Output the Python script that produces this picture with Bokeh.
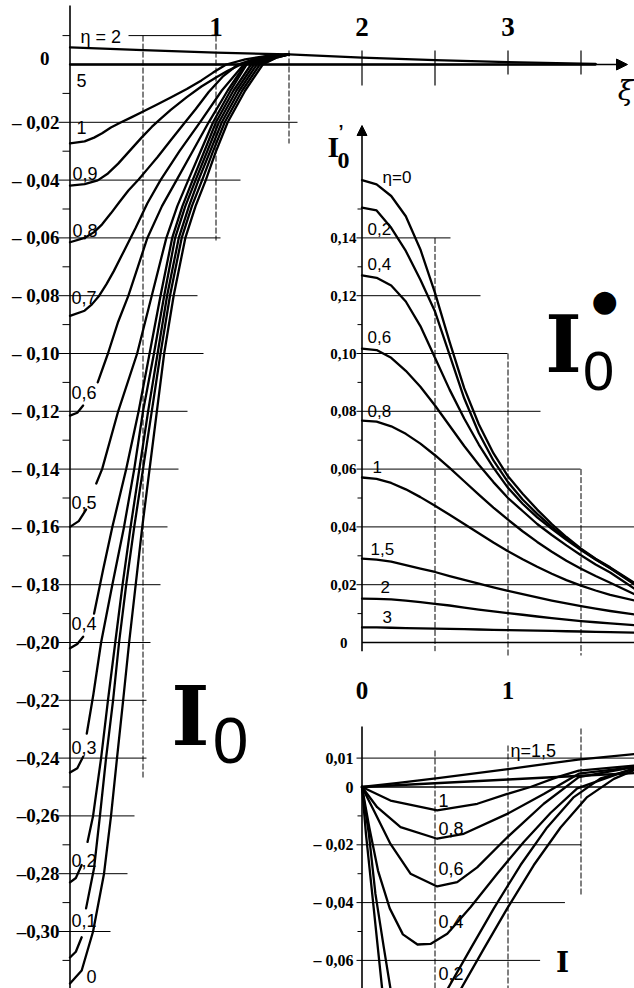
import numpy as np
from bokeh.plotting import figure
from bokeh.models import Range1d, Arrow, NormalHead
from bokeh.core.properties import value
from bokeh.embed import file_html
from bokeh.resources import INLINE

nan = float("nan")

# ---------------- main panel: I0(xi, eta) ----------------
xi_I0_e0 = [0, 0.08, 0.158, 0.233, 0.281, 0.322, 0.364, 0.405, 0.45, 0.495, 0.545, 0.595, 0.645, 0.71, 0.79, 0.86, 0.93, 1.0, 1.08, 1.2, 1.32, 1.42, 1.5]
v_I0_e0 = [-0.318, -0.3135, -0.300, -0.280, -0.260, -0.240, -0.220, -0.200, -0.180, -0.160, -0.140, -0.120, -0.100, -0.080, -0.060, -0.049, -0.040, -0.030, -0.020, -0.009, 0.0, 0.0025, 0.0035]
xi_I0_e01 = [0, 0.04, 0.08, nan, 0.11, 0.165, 0.205, 0.247, 0.295, 0.336, 0.385, 0.44, 0.50, 0.56, 0.62, 0.685, 0.765, 0.835, 0.905, 0.98, 1.06, 1.18, 1.30, 1.42, 1.5]
v_I0_e01 = [-0.309, -0.307, -0.302, nan, -0.292, -0.278, -0.260, -0.240, -0.220, -0.200, -0.180, -0.160, -0.140, -0.120, -0.100, -0.080, -0.060, -0.049, -0.040, -0.030, -0.020, -0.009, 0.0, 0.0025, 0.0035]
xi_I0_e02 = [0, 0.04, 0.08, nan, 0.12, 0.158, 0.213, 0.26, 0.31, 0.36, 0.415, 0.475, 0.535, 0.60, 0.665, 0.745, 0.815, 0.88, 0.96, 1.04, 1.16, 1.28, 1.4, 1.5]
v_I0_e02 = [-0.283, -0.2815, -0.277, nan, -0.269, -0.260, -0.240, -0.220, -0.200, -0.180, -0.160, -0.140, -0.120, -0.100, -0.080, -0.060, -0.049, -0.040, -0.030, -0.020, -0.009, 0.0, 0.0025, 0.0035]
xi_I0_e03 = [0, 0.05, 0.09, nan, 0.115, 0.16, 0.213, 0.29, 0.37, 0.44, 0.50, 0.575, 0.645, 0.72, 0.79, 0.86, 0.94, 1.02, 1.14, 1.26, 1.38, 1.5]
v_I0_e03 = [-0.245, -0.2435, -0.2395, nan, -0.2315, -0.218, -0.200, -0.180, -0.160, -0.140, -0.120, -0.100, -0.080, -0.060, -0.049, -0.040, -0.030, -0.020, -0.009, 0.0, 0.0025, 0.0035]
xi_I0_e04 = [0, 0.05, 0.09, nan, 0.165, 0.226, 0.29, 0.385, 0.47, 0.545, 0.62, 0.70, 0.77, 0.84, 0.92, 1.0, 1.12, 1.24, 1.36, 1.5]
v_I0_e04 = [-0.202, -0.2005, -0.198, nan, -0.190, -0.175, -0.160, -0.140, -0.120, -0.100, -0.080, -0.060, -0.049, -0.040, -0.030, -0.020, -0.009, 0.0, 0.0025, 0.0035]
xi_I0_e05 = [0, 0.06, 0.11, nan, 0.18, 0.22, 0.33, 0.46, 0.56, 0.66, 0.735, 0.81, 0.895, 0.98, 1.1, 1.21, 1.35, 1.5]
v_I0_e05 = [-0.160, -0.158, -0.154, nan, -0.145, -0.140, -0.120, -0.100, -0.080, -0.060, -0.049, -0.040, -0.030, -0.020, -0.009, 0.0, 0.0025, 0.0035]
xi_I0_e06 = [0, 0.05, 0.09, nan, 0.19, 0.26, 0.33, 0.40, 0.465, 0.53, 0.63, 0.73, 0.84, 0.95, 1.08, 1.2, 1.35, 1.5]
v_I0_e06 = [-0.1215, -0.1205, -0.118, nan, -0.110, -0.100, -0.089, -0.080, -0.0700, -0.060, -0.049, -0.040, -0.030, -0.020, -0.009, 0.0, 0.0025, 0.0035]
xi_I0_e07 = [0, 0.1, 0.15, 0.2, 0.25, 0.3, 0.37, 0.45, 0.53, 0.62, 0.75, 0.89, 1.04, 1.19, 1.35, 1.5]
v_I0_e07 = [-0.087, -0.0852, -0.0830, -0.0800, -0.0760, -0.0715, -0.0645, -0.0565, -0.048, -0.040, -0.030, -0.020, -0.009, 0.0, 0.0025, 0.0035]
xi_I0_e08 = [0, 0.1, 0.165, 0.22, 0.28, 0.34, 0.40, 0.47, 0.53, 0.6, 0.69, 0.78, 0.86, 0.95, 1.05, 1.15, 1.3, 1.5]
v_I0_e08 = [-0.0615, -0.0600, -0.0580, -0.0553, -0.0515, -0.0475, -0.0436, -0.0398, -0.0362, -0.0320, -0.0262, -0.0205, -0.0155, -0.0095, -0.0040, 0.0, 0.0025, 0.0035]
xi_I0_e09 = [0, 0.1, 0.19, 0.26, 0.33, 0.41, 0.49, 0.56, 0.62, 0.69, 0.8, 0.9, 1.0, 1.08, 1.17, 1.3, 1.5]
v_I0_e09 = [-0.0419, -0.0414, -0.0401, -0.0377, -0.0343, -0.0298, -0.0253, -0.0216, -0.0188, -0.0157, -0.0113, -0.0076, -0.0045, -0.0022, 0.0, 0.0022, 0.0035]
xi_I0_e1 = [0, 0.1, 0.165, 0.22, 0.28, 0.35, 0.42, 0.487, 0.59, 0.69, 0.8, 0.9, 0.98, 1.07, 1.2, 1.35, 1.5]
v_I0_e1 = [-0.0273, -0.0266, -0.0253, -0.0238, -0.0218, -0.020, -0.0183, -0.0166, -0.0140, -0.0114, -0.0085, -0.0055, -0.0028, 0.0, 0.0018, 0.003, 0.0035]
xi_I0_e2 = [0, 0.5, 1.0, 1.5, 2.0, 2.5, 3.0, 3.5, 3.6]
v_I0_e2 = [0.0059, 0.0050, 0.0041, 0.0035, 0.0024, 0.0015, 0.0008, 0.0003, 0.0002]
xi_I0_e5 = [0, 3.6]
v_I0_e5 = [0.0, 0.0]

main_labels = ["η = 2", "5", "1", "0,9", "0,8", "0,7", "0,6", "0,5", "0,4", "0,3", "0,2", "0,1", "0"]
main_yticks = [0, -0.02, -0.04, -0.06, -0.08, -0.10, -0.12, -0.14, -0.16, -0.18, -0.20, -0.22, -0.24, -0.26, -0.28, -0.30]
main_yticklabels = ["0", "– 0,02", "– 0,04", "– 0,06", "– 0,08", "– 0,10", "– 0,12", "– 0,14", "– 0,16",
                    "– 0,18", "–0,20", "–0,22", "–0,24", "–0,26", "–0,28", "–0,30"]
main_xticks = [1, 2, 3]
main_xticklabels = ["1", "2", "3"]

# ---------------- upper right panel: I0'(xi, eta) ----------------
xp_dI0 = [0, 0.1, 0.2, 0.3, 0.4, 0.5, 0.6, 0.7, 0.8, 0.9, 1.0, 1.1, 1.2, 1.3, 1.4, 1.5, 1.6, 1.7, 1.87]
dI0_e0 = [0.160, 0.1585, 0.1545, 0.1475, 0.136, 0.121, 0.104, 0.088, 0.0755, 0.0655, 0.0575, 0.0515, 0.046, 0.041, 0.0365, 0.0325, 0.029, 0.026, 0.0205]
dI0_e02 = [0.1505, 0.1495, 0.1435, 0.1355, 0.1255, 0.1145, 0.0995, 0.0845, 0.0725, 0.063, 0.0555, 0.0495, 0.0445, 0.040, 0.036, 0.0322, 0.0288, 0.0258, 0.0202]
dI0_e04 = [0.127, 0.1262, 0.1235, 0.118, 0.1095, 0.0985, 0.0875, 0.0775, 0.0685, 0.0605, 0.0535, 0.048, 0.0433, 0.0393, 0.0355, 0.032, 0.0287, 0.0257, 0.0200]
dI0_e06 = [0.1017, 0.1012, 0.0985, 0.094, 0.0885, 0.082, 0.075, 0.068, 0.0615, 0.0555, 0.050, 0.0455, 0.041, 0.0372, 0.0336, 0.0302, 0.0270, 0.0242, 0.0185]
dI0_e08 = [0.0768, 0.0764, 0.0748, 0.0722, 0.0688, 0.0648, 0.0604, 0.0558, 0.0512, 0.0467, 0.0425, 0.0385, 0.0348, 0.0314, 0.0283, 0.0255, 0.0230, 0.0207, 0.0166]
dI0_e1 = [0.0571, 0.0566, 0.0552, 0.053, 0.0503, 0.0473, 0.0442, 0.041, 0.0378, 0.0346, 0.0316, 0.0288, 0.0262, 0.0238, 0.0216, 0.0197, 0.018, 0.0165, 0.0145]
dI0_e15 = [0.029, 0.0287, 0.028, 0.0268, 0.0256, 0.0244, 0.0230, 0.0217, 0.0204, 0.0191, 0.0179, 0.0167, 0.0156, 0.0145, 0.0135, 0.0126, 0.0117, 0.0109, 0.0097]
dI0_e2 = [0.0152, 0.0151, 0.0149, 0.0145, 0.014, 0.0134, 0.0128, 0.0121, 0.0114, 0.0108, 0.0102, 0.0096, 0.0090, 0.0084, 0.0079, 0.0074, 0.0070, 0.0066, 0.0060]
dI0_e3 = [0.0052, 0.0052, 0.0051, 0.0050, 0.0049, 0.0048, 0.0047, 0.0046, 0.0045, 0.0044, 0.0043, 0.0042, 0.0041, 0.0040, 0.0039, 0.0038, 0.0037, 0.0036, 0.0034]
up_labels = ["η=0", "0,2", "0,4", "0,6", "0,8", "1", "1,5", "2", "3"]
up_yticks = [0, 0.02, 0.04, 0.06, 0.08, 0.10, 0.12, 0.14]
up_yticklabels = ["0", "0,02", "0,04", "0,06", "0,08", "0,10", "0,12", "0,14"]

# ---------------- lower right panel ----------------
xl_e15 = [0, 0.25, 0.52, 1.0, 1.48, 1.87]
yl_e15 = [0, 0.0014, 0.0031, 0.0062, 0.0095, 0.0114]
xl_e2 = [0, 0.5, 1.0, 1.5, 1.87]
yl_e2 = [0, 0.0013, 0.0026, 0.0039, 0.0048]
xl_e1 = [0, 0.195, 0.515, 0.79, 0.995, 1.154, 1.337, 1.485, 1.862]
yl_e1 = [0, -0.0047, -0.0081, -0.0058, -0.0024, 0.0, 0.0034, 0.0057, 0.0074]
xl_e08 = [0, 0.104, 0.264, 0.515, 0.697, 0.995, 1.245, 1.485, 1.862]
yl_e08 = [0, -0.0070, -0.0139, -0.0179, -0.0162, -0.0093, -0.0024, 0.0046, 0.0069]
xl_e06 = [0, 0.081, 0.195, 0.332, 0.515, 0.652, 0.789, 0.995, 1.245, 1.485, 1.862]
yl_e06 = [0, -0.0081, -0.0197, -0.0300, -0.0344, -0.0329, -0.0278, -0.0174, -0.0058, 0.0034, 0.0069]
xl_e04 = [0, 0.05, 0.11, 0.19, 0.28, 0.38, 0.469, 0.584, 0.743, 0.926, 1.108, 1.291, 1.474, 1.862]
yl_e04 = [0, -0.0140, -0.0290, -0.0420, -0.0510, -0.0545, -0.0543, -0.0508, -0.0416, -0.0300, -0.0190, -0.0090, -0.0005, 0.0065]
xl_e02 = [0, 0.047, 0.092, 0.149, 0.195, 0.30, 0.40, 0.50, 0.584, 0.743, 0.903, 1.086, 1.268, 1.451, 1.634, 1.862]
yl_e02 = [0, -0.0162, -0.0370, -0.0554, -0.0698, -0.085, -0.088, -0.081, -0.0701, -0.0560, -0.0420, -0.0270, -0.0140, -0.0035, 0.0030, 0.0062]
xl_e0 = [0, 0.027, 0.07, 0.108, 0.138, 0.25, 0.40, 0.55, 0.675, 0.834, 0.995, 1.177, 1.36, 1.542, 1.725, 1.862]
yl_e0 = [0, -0.0162, -0.0370, -0.0554, -0.0698, -0.098, -0.105, -0.088, -0.0701, -0.0560, -0.0420, -0.0270, -0.0140, -0.0035, 0.0028, 0.0058]
lo_labels = ["η=1,5", "1", "0,8", "0,6", "0,4", "0,2"]
lo_yticks = [0.01, 0, -0.02, -0.04, -0.06]
lo_yticklabels = ["0,01", "0", "– 0,02", "– 0,04", "– 0,06"]
lo_xticks = [0, 1]
lo_xticklabels = ["0", "1"]

# ---------------- layout / scales ----------------
W, H = 634, 988
PX0, PXU = 69.5, 146.0
PY0, PYU = 64.0, 2890.0
XS, XE = -PX0 / PXU, (W - PX0) / PXU
YS, YE = -(H - PY0) / PYU, PY0 / PYU
SX = 2.0      # right panels: xi' = xi - 2
SUP = 0.20    # upper right panel zero
SLO = 0.25    # lower right panel zero


def X(px):
    return (px - PX0) / PXU


def Y(py):
    return (PY0 - py) / PYU


p = figure(width=W, height=H, x_range=Range1d(XS, XE), y_range=Range1d(YS, YE),
           x_axis_location=None, y_axis_location=None, toolbar_location=None,
           output_backend="svg", min_border=0, outline_line_color=None,
           background_fill_color="white", border_fill_color="white")
p.xgrid.visible = False
p.ygrid.visible = False
p.extra_x_ranges = {"rx": Range1d(XS - SX, XE - SX)}
p.extra_y_ranges = {"up": Range1d(YS + SUP, YE + SUP), "lo": Range1d(YS + SLO, YE + SLO)}

NARROW = "Liberation Sans Narrow"
SANS = "Liberation Sans"
K = "black"


def seg(x0, y0, x1, y1, w=1.0, dash="solid", xr="default", yr="default"):
    p.segment(x0=x0, y0=y0, x1=x1, y1=y1, line_color=K, line_width=w, line_dash=dash,
              x_range_name=xr, y_range_name=yr)


def txt(xs, ys, ss, size, font=SANS, style="normal", align="left", baseline="middle",
        xr="default", yr="default"):
    p.text(x=xs, y=ys, text=ss, text_font=value(font), text_font_size=f"{size}px",
           text_font_style=style, text_align=align, text_baseline=baseline, text_color=K,
           x_range_name=xr, y_range_name=yr)


def curve(xs, ys, w=2.3, xr="default", yr="default"):
    p.line(x=np.array(xs, dtype=float), y=np.array(ys, dtype=float), line_color=K, line_width=w,
           line_join="round", line_cap="round", x_range_name=xr, y_range_name=yr)


# ===== main panel grid and axes =====
main_grid_right = [None, 297, 240, 220, 197, 203, 187, 178, 167, 160, 150, 146, 146, 134, 127, 110]
for t, r in zip(main_yticks[1:], main_grid_right[1:]):
    seg([X(58)], [t], [X(r)], [t])
seg([X(128)], [0.01], [X(218)], [0.01])
minor = [0.01] + [-0.01 - 0.02 * k for k in range(16)]
seg([X(62)] * len(minor), minor, [0.0] * len(minor), minor)
seg([0.0], [YS], [0.0], [Y(5)], w=1.6)
seg([0.5], [0.01], [0.5], [Y(777)], w=1.0, dash="6 2")
seg([1.0], [0.01], [1.0], [Y(240)], w=1.0, dash="6 2")
seg([1.5], [Y(50)], [1.5], [Y(143)], w=1.0, dash="6 2")
seg([2.0, 2.5, 3.0, 3.5], [Y(50)] * 4, [2.0, 2.5, 3.0, 3.5], [Y(85), Y(85), Y(74), Y(74)], w=1.2)
p.add_layout(Arrow(end=NormalHead(size=11, fill_color=K, line_color=K), x_start=0.0, y_start=0.0,
                   x_end=X(627), y_end=0.0, line_color=K, line_width=1.6))

for xs, ys in [(xi_I0_e0, v_I0_e0), (xi_I0_e01, v_I0_e01), (xi_I0_e02, v_I0_e02), (xi_I0_e03, v_I0_e03),
               (xi_I0_e04, v_I0_e04), (xi_I0_e05, v_I0_e05), (xi_I0_e06, v_I0_e06), (xi_I0_e07, v_I0_e07),
               (xi_I0_e08, v_I0_e08), (xi_I0_e09, v_I0_e09), (xi_I0_e1, v_I0_e1), (xi_I0_e2, v_I0_e2),
               (xi_I0_e5, v_I0_e5)]:
    curve(xs, ys)

# main labels
lab_px = [80, 76, 76, 72, 72, 71, 71, 71, 71, 71, 71, 71, 86]
lab_py = [36, 80, 127, 173, 230, 297, 392, 502, 623, 747, 860, 920, 976]
txt([X(a) for a in lab_px], [Y(b) for b in lab_py], main_labels, 18)
txt([X(59)] * (len(main_yticks) - 1), main_yticks[1:], main_yticklabels[1:], 19, font=NARROW,
    style="bold", align="right")
txt([X(49)], [Y(58)], main_yticklabels[:1], 19, font=NARROW, style="bold", align="right")
txt(main_xticks, [Y(26)] * 3, main_xticklabels, 27, font=NARROW, style="bold", align="center")
txt([X(625)], [Y(90)], ["ξ"], 28, font="DejaVu Serif", style="italic", align="center")

# big I0 emblem (main)
txt([X(190)], [Y(715)], ["I"], 82, font="DejaVu Serif", style="bold", align="center", baseline="alphabetic")
txt([X(230)], [Y(740)], ["0"], 64, font=SANS, align="center", baseline="alphabetic")

# ===== upper right panel I0' =====
up_grid_right = [None, 634, 634, 580, 540, 507, 480, 450]
for t, r in zip(up_yticks[1:], up_grid_right[1:]):
    seg([X(356) - SX], [t], [X(r) - SX], [t], xr="rx", yr="up")
seg([0.0], [0.0], [X(634) - SX], [0.0], w=1.6, xr="rx", yr="up")
seg([0.5], [0.14], [0.5], [-0.003], dash="6 2", xr="rx", yr="up")
seg([1.0], [0.10], [1.0], [-0.0045], dash="6 2", xr="rx", yr="up")
seg([1.5], [0.06], [1.5], [-0.0045], dash="6 2", xr="rx", yr="up")
uminor = [0.01 + 0.02 * k for k in range(8)]
seg([X(357) - SX] * len(uminor), uminor, [0.0] * len(uminor), uminor, xr="rx", yr="up")
p.add_layout(Arrow(end=NormalHead(size=10, fill_color=K, line_color=K), x_start=0.0, y_start=-0.003,
                   x_end=0.0, y_end=Y(125) + SUP, line_color=K, line_width=1.6,
                   x_range_name="rx", y_range_name="up"))
for ys in [dI0_e0, dI0_e02, dI0_e04, dI0_e06, dI0_e08, dI0_e1, dI0_e15, dI0_e2, dI0_e3]:
    curve(xp_dI0, ys, xr="rx", yr="up")
ulab_px = [382, 367, 367, 367, 367, 372, 370, 380, 382]
ulab_py = [177, 228, 263, 336, 410, 466, 548, 586, 616]
txt([X(a) for a in ulab_px], [Y(b) for b in ulab_py], up_labels, 17)
txt([X(356) - SX] * (len(up_yticks) - 1), up_yticks[1:], up_yticklabels[1:], 15, font=NARROW,
    style="bold", align="right", xr="rx", yr="up")
txt([X(347) - SX], [0.0], up_yticklabels[:1], 15, font=NARROW, style="bold", align="right",
    xr="rx", yr="up")
txt([X(327)], [Y(146)], ["I"], 30, font=NARROW, style="bold", baseline="alphabetic")
txt([X(338)], [Y(131)], ["’"], 18, font=SANS, style="bold", baseline="alphabetic")
txt([X(337)], [Y(160)], ["0"], 24, font=NARROW, style="bold", baseline="alphabetic")
# emblem
txt([X(563)], [Y(344)], ["I"], 78, font="DejaVu Serif", style="bold", align="center", baseline="alphabetic")
txt([X(604)], [Y(300)], ["●"], 30, font="DejaVu Sans", align="center")
txt([X(598)], [Y(370)], ["0"], 56, font=SANS, align="center", baseline="alphabetic")

# ===== lower right panel =====
seg([X(356) - SX], [0.01], [X(634) - SX], [0.01], xr="rx", yr="lo")
seg([X(356) - SX] * 3, [-0.02, -0.04, -0.06], [1.5, 1.39, 1.22], [-0.02, -0.04, -0.06], xr="rx", yr="lo")
seg([0.0], [0.0], [X(634) - SX], [0.0], w=1.6, xr="rx", yr="lo")
seg([0.0], [Y(726) + SLO], [0.0], [YS + SLO], w=1.6, xr="rx", yr="lo")
seg([0.5], [Y(750) + SLO], [0.5], [YS + SLO], dash="6 2", xr="rx", yr="lo")
seg([1.0], [Y(745) + SLO], [1.0], [YS + SLO], dash="6 2", xr="rx", yr="lo")
seg([1.5], [Y(728) + SLO], [1.5], [Y(895) + SLO], dash="6 2", xr="rx", yr="lo")
lminor = [-0.01, -0.03, -0.05]
seg([X(357) - SX] * 3, lminor, [0.0] * 3, lminor, xr="rx", yr="lo")
for xs, ys in [(xl_e15, yl_e15), (xl_e2, yl_e2), (xl_e1, yl_e1), (xl_e08, yl_e08), (xl_e06, yl_e06),
               (xl_e04, yl_e04), (xl_e02, yl_e02), (xl_e0, yl_e0)]:
    curve(xs, ys, xr="rx", yr="lo")
llab_px = [510, 438, 438, 438, 438, 438]
llab_py = [750, 800, 828, 868, 921, 973]
txt([X(a) for a in llab_px], [Y(b) for b in llab_py], lo_labels, 18)
txt([X(353) - SX] * len(lo_yticks), lo_yticks, lo_yticklabels, 16, font=NARROW, style="bold",
    align="right", xr="rx", yr="lo")
txt(lo_xticks, [Y(690) + SLO] * 2, lo_xticklabels, 25, font=NARROW, style="bold", align="center",
    xr="rx", yr="lo")
txt([X(562)], [Y(962)], ["I"], 28, font="DejaVu Serif", style="bold", align="center", baseline="middle")

open("out.html", "w").write(file_html(p, INLINE))
